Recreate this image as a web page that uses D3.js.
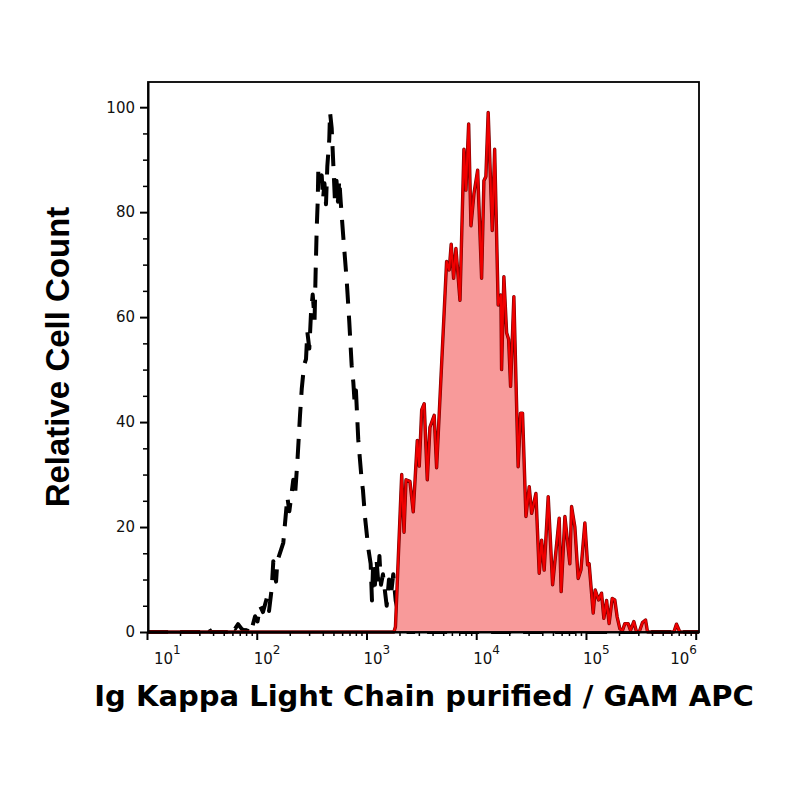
<!DOCTYPE html>
<html>
<head>
<meta charset="utf-8">
<script src="https://cdn.jsdelivr.net/npm/d3@7"></script>
<style>
  body { margin: 0; background: #fff; }
</style>
</head>
<body>
<div id="chart"></div>
<script>

// control (isotype) histogram: log10 fluorescence channel vs relative count
const ctrlExp = [1.01, 1.529, 1.559, 1.584, 1.739, 1.766, 1.802, 1.830, 1.866, 1.909, 1.933, 1.957, 1.985, 2.007,
  2.030, 2.057, 2.091, 2.112, 2.137, 2.151, 2.176, 2.188, 2.242, 2.279, 2.297, 2.333, 2.349, 2.373, 2.394,
  2.410, 2.431, 2.449, 2.461, 2.479, 2.495, 2.510, 2.527, 2.536, 2.546, 2.556, 2.561, 2.577, 2.592, 2.604,
  2.617, 2.631, 2.643, 2.661, 2.668, 2.683, 2.698, 2.713, 2.727, 2.740, 2.752, 2.765, 2.789, 2.820, 2.843,
  2.865, 2.880, 2.891, 2.904, 2.925, 2.956, 2.968, 2.986, 3.016, 3.038, 3.050, 3.059, 3.077, 3.091, 3.105,
  3.118, 3.132, 3.150, 3.184, 3.205, 3.223, 3.244, 3.266, 3.296, 3.332, 3.378, 6.028];
const ctrlCount = [0, 0, 0.8, 0, 0, 1.2, 0.6, 1.5, 0.5, 0.2, 1.5, 0.8, 3, 2,
  5, 3.8, 6.4, 4, 8.4, 13.5, 9.6, 13.5, 17, 25.7, 23, 29, 26, 33.4, 41.2,
  46.3, 50.8, 52, 57.2, 54, 61, 64.3, 59.5, 68, 76.5, 82.3, 88, 86, 87, 82.5,
  85.5, 81.5, 88.7, 93.9, 99, 96, 89, 82, 86, 82, 86.2, 82, 75.2, 66.9, 59.2,
  50.8, 47.6, 44, 46, 36.7, 29, 27, 22, 16, 13, 6, 12, 9, 14, 10,
  14.5, 9, 11, 5, 10, 7, 11, 6, 3, 1, 0, 0];

// Ig Kappa Light Chain stained histogram
const stainExp = [1.01, 3.250, 3.264, 3.321, 3.342, 3.360, 3.396, 3.426, 3.463, 3.481, 3.503, 3.526, 3.554,
  3.578, 3.617, 3.639, 3.730, 3.754, 3.772, 3.794, 3.815, 3.852, 3.888, 3.906, 3.931, 3.952, 3.979,
  4.013, 4.049, 4.070, 4.088, 4.109, 4.146, 4.168, 4.200, 4.225, 4.231, 4.252, 4.277, 4.295, 4.313,
  4.343, 4.382, 4.404, 4.422, 4.453, 4.483, 4.505, 4.544, 4.574, 4.596, 4.619, 4.656, 4.696, 4.756,
  4.774, 4.808, 4.853, 4.869, 4.899, 4.929, 4.954, 4.990, 5.015, 5.029, 5.066, 5.084, 5.115, 5.142,
  5.163, 5.188, 5.211, 5.239, 5.263, 5.284, 5.309, 5.333, 5.354, 5.384, 5.406, 5.436, 5.461, 5.485,
  5.515, 5.543, 5.561, 5.801, 5.825, 5.855, 6.028];
const stainCount = [0, 0, 1, 30, 19, 29, 28.7, 22.9, 36.5, 31.6, 42.3, 43.5, 29,
  39, 41.3, 31.3, 70.6, 69, 73.9, 67.4, 73.1, 63.2, 92, 84.2, 96.8, 77.4, 83.5,
  88, 67.4, 86, 86.8, 99, 76.5, 92, 62.3, 64.2, 50, 67.7, 57, 55.8, 46.8,
  63.9, 31.5, 41.7, 41.7, 22, 27.7, 22.6, 26.4, 11.2, 17.5, 11.8, 25.8, 9, 21.7,
  7.7, 22, 13, 23.9, 20, 10.2, 11.8, 20.8, 12.8, 13, 3.6, 8, 6.1, 7.4,
  2.6, 6, 1.6, 6.4, 6.1, 2.9, 0.6, 0.3, 1.6, 1.6, 0.3, 2, 0, 0,
  1.8, 2.3, 0, 0, 1.5, 0, 0];

const yTicks = [0, 20, 40, 60, 80, 100];
const xDecades = [1, 2, 3, 4, 5, 6];

const margin = {top: 82, right: 101, bottom: 168, left: 148},
    width = 800 - margin.left - margin.right,
    height = 800 - margin.top - margin.bottom;

const svg = d3.select("#chart")
  .append("svg")
    .attr("width", 800)
    .attr("height", 800);

const g = svg.append("g")
    .attr("transform", `translate(${margin.left}, ${margin.top})`);

const x = d3.scaleLog()
  .domain([10, Math.pow(10, 6.03)])
  .range([-1, width]);

const y = d3.scaleLinear()
  .domain([0, 104.8])
  .range([height, 0]);

const ctrl = ctrlExp.map((e, i) => ({e: e, c: ctrlCount[i]}));
const stain = stainExp.map((e, i) => ({e: e, c: stainCount[i]}));

// control: black dashed line, under the filled histogram
const line = d3.line()
  .x(d => x(Math.pow(10, d.e)))
  .y(d => y(d.c));

g.append("path")
  .datum(ctrl)
  .attr("d", line)
  .attr("fill", "none")
  .attr("stroke", "#000")
  .attr("stroke-width", 4)
  .attr("stroke-dasharray", "20,12")
  .attr("stroke-linejoin", "round");

// stained: pink fill with red outline
const area = d3.area()
  .x(d => x(Math.pow(10, d.e)))
  .y0(height)
  .y1(d => y(d.c));

g.append("path")
  .datum(stain)
  .attr("d", area)
  .attr("fill", "#f89a9a");

g.append("path")
  .datum(stain)
  .attr("d", line)
  .attr("fill", "none")
  .attr("stroke", "#7a0000")
  .attr("stroke-width", 3.4)
  .attr("stroke-linejoin", "round");

g.append("path")
  .datum(stain)
  .attr("d", line)
  .attr("fill", "none")
  .attr("stroke", "#f00000")
  .attr("stroke-width", 2.1)
  .attr("stroke-linejoin", "round");

// frame (top / right)
g.append("rect")
  .attr("x", 0).attr("y", 0)
  .attr("width", width).attr("height", height)
  .attr("fill", "none")
  .attr("stroke", "#000")
  .attr("stroke-width", 1.8);

// X axis: minor + major ticks
const allTicks = x.ticks();
const majors = xDecades.map(d => Math.pow(10, d));
const minors = allTicks.filter(t => Math.abs(Math.log10(t) - Math.round(Math.log10(t))) > 1e-6);

g.append("g")
  .attr("transform", `translate(0, ${height})`)
  .call(d3.axisBottom(x).tickValues(minors).tickSize(4).tickSizeOuter(0).tickFormat(""))
  .call(a => a.select(".domain").remove())
  .call(a => a.selectAll("line").attr("stroke-width", 1.5));

const xAxis = g.append("g")
  .attr("transform", `translate(0, ${height})`)
  .call(d3.axisBottom(x).tickValues(majors).tickSize(8).tickSizeOuter(0).tickFormat(""));
xAxis.select(".domain").attr("stroke-width", 2);
xAxis.selectAll("line").attr("stroke-width", 2);

// decade labels 10^n
xDecades.forEach(d => {
  const t = g.append("text")
    .attr("y", height + 32)
    .attr("font-family", "DejaVu Sans, Verdana, sans-serif")
    .attr("font-size", 15)
    .attr("fill", "#111");
  t.append("tspan").text("10");
  t.append("tspan").attr("dy", -10).attr("font-size", 12).text(d);
  const w = t.node().getComputedTextLength();
  const px = Math.max(6, Math.min(x(Math.pow(10, d)) - 3, width - w - 2));
  t.attr("x", px);
});

// Y axis
g.append("g")
  .call(d3.axisLeft(y).tickValues(d3.range(0, 101, 5).filter(v => v % 20)).tickSize(5).tickSizeOuter(0).tickFormat(""))
  .call(a => a.select(".domain").remove())
  .call(a => a.selectAll("line").attr("stroke-width", 1.5));

const yAxis = g.append("g")
  .call(d3.axisLeft(y).tickValues(yTicks).tickSize(8).tickPadding(5).tickSizeOuter(0));
yAxis.select(".domain").attr("stroke-width", 2);
yAxis.selectAll("line").attr("stroke-width", 2);
yAxis.selectAll("text")
  .attr("font-family", "DejaVu Sans, Verdana, sans-serif")
  .attr("font-size", 15)
  .attr("fill", "#111");

// axis titles
svg.append("text")
  .attr("x", 424)
  .attr("y", 706)
  .attr("text-anchor", "middle")
  .attr("font-family", "DejaVu Sans, Verdana, sans-serif")
  .attr("font-weight", "bold")
  .attr("font-size", 29)
  .text("Ig Kappa Light Chain purified / GAM APC");

svg.append("text")
  .attr("transform", "translate(69, 357) rotate(-90)")
  .attr("text-anchor", "middle")
  .attr("font-family", "Liberation Sans, Arial, sans-serif")
  .attr("font-weight", "bold")
  .attr("font-size", 33)
  .text("Relative Cell Count");

</script>
</body>
</html>
